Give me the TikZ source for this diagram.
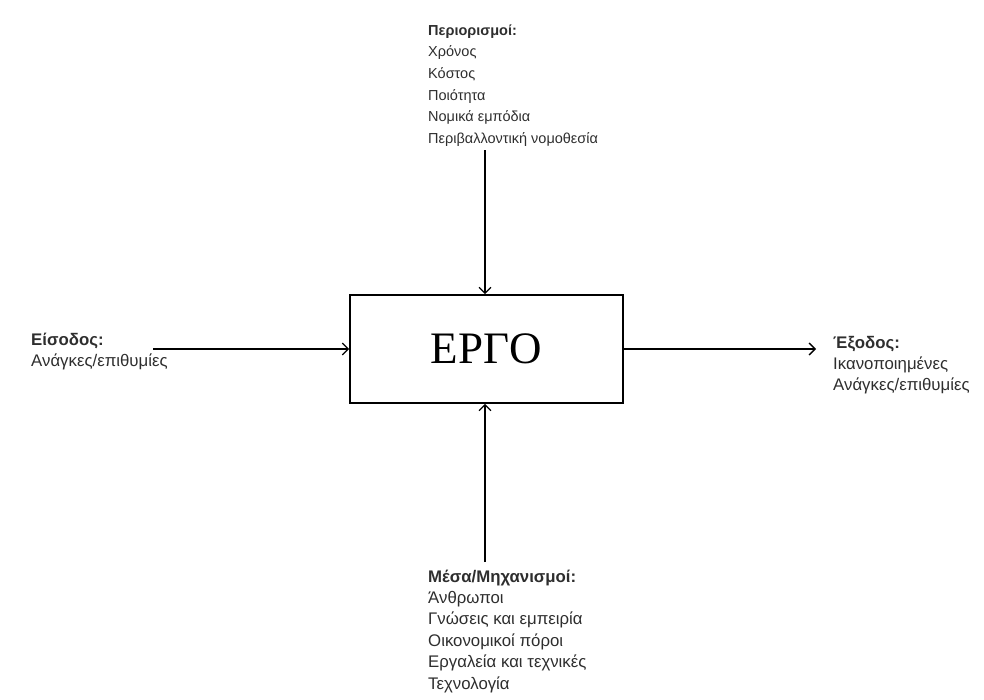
\documentclass[tikz,border=0pt]{standalone}
\usepackage{fontspec}
\setmainfont{Liberation Sans}
\newfontfamily\boxfont{Liberation Serif}
\usetikzlibrary{arrows.meta}

% multi-line label whose reference point is the first baseline
\newcommand\labellines[1]{\begin{tabular}[t]{@{}l@{}}#1\end{tabular}}

\tikzset{
  project/.style={draw, line width=1.6pt, minimum width=273pt, minimum height=108pt,
    inner sep=0pt, font=\boxfont\fontsize{45}{50}\selectfont},
  flow/.style={line width=1.3pt, -{Straight Barb[length=6pt, width=12pt, line width=1.3pt]}},
  note/.style={anchor=base west, inner sep=0pt, text=black!82},
  topnote/.style={note, font=\fontsize{14.5}{21.7}\selectfont},
  sidenote/.style={note, font=\fontsize{16.8}{21}\selectfont},
}

\begin{document}
\begin{tikzpicture}[x=1pt, y=-1pt]
  \useasboundingbox (0,0) rectangle (984,699);

  % central block
  \node[project] (erg) at (486.5,349) {ΕΡΓΟ};

  % free ends of the four connectors
  \coordinate (topstart) at (485,150);
  \coordinate (botstart) at (485,562);
  \coordinate (inpstart) at (153,349);
  \coordinate (outend)   at (816,349);

  \draw[flow] (topstart) -- (erg.north -| topstart);
  \draw[flow] (botstart) -- (erg.south -| botstart);
  \draw[flow] (inpstart) -- (erg.west);
  \draw[flow] (erg.east) -- (outend);

  % labels
  \node[topnote] (constraints) at (428,35) {\labellines{\textbf{Περιορισμοί:}\\Χρόνος\\Κόστος\\Ποιότητα\\Νομικά εμπόδια\\Περιβαλλοντική νομοθεσία}};
  \node[sidenote] (input) at (31,345) {\labellines{\textbf{Είσοδος:}\\Ανάγκες/επιθυμίες}};
  \node[sidenote] (output) at (833,348) {\labellines{\textbf{Έξοδος:}\\Ικανοποιημένες\\Ανάγκες/επιθυμίες}};
  \node[sidenote, font=\fontsize{16.8}{21.4}\selectfont] (means) at (428,582) {\labellines{\textbf{Μέσα/Μηχανισμοί:}\\Άνθρωποι\\Γνώσεις και εμπειρία\\Οικονομικοί πόροι\\Εργαλεία και τεχνικές\\Τεχνολογία}};
\end{tikzpicture}
\end{document}
